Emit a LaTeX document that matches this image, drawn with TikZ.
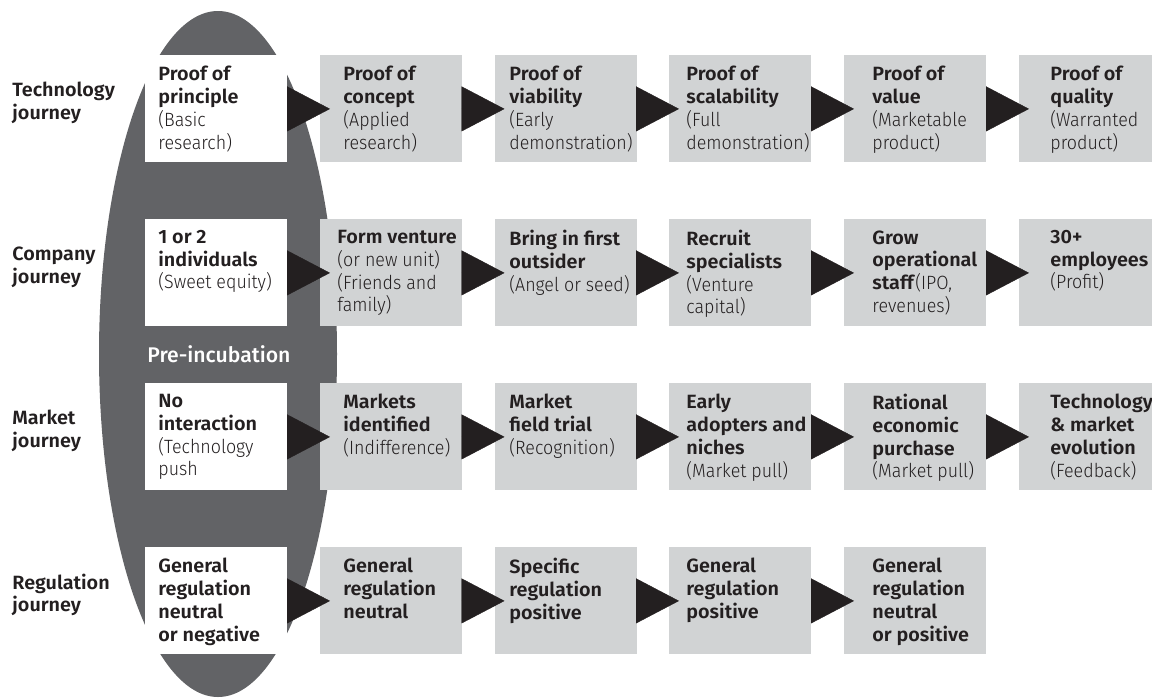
\documentclass[tikz,border=0pt]{standalone}
\usepackage{fontspec}
\setmainfont{Fira Sans}[UprightFont={* Light}, UprightFeatures={FakeStretch=0.93},
  BoldFont={* SemiBold}, BoldFeatures={FakeStretch=1.03}]
\newfontfamily\regfont{Fira Sans}[UprightFont={* Medium}]
\usetikzlibrary{arrows.meta}

\definecolor{boxgray}{RGB}{209,211,212}
\definecolor{ovalgray}{RGB}{98,99,102}
\definecolor{inkblack}{RGB}{35,31,32}

\tikzset{
  stage/.style={fill=boxgray, minimum width=71pt, minimum height=53.5pt,
    inner sep=0pt, anchor=north west},
  stagetext/.style={anchor=north west, align=left, inner sep=0pt, text=inkblack,
    font=\fontsize{9.6}{11.35}\selectfont},
  rowlabel/.style={anchor=west, align=left, inner sep=0pt, text=inkblack,
    font=\fontsize{9.6}{11.35}\selectfont\bfseries}
}

\begin{document}
\begin{tikzpicture}[x=0.5pt,y=-0.5pt]
  \useasboundingbox (0,0) rectangle (1152,697);

  % pre-incubation oval
  \fill[ovalgray] (218,354) ellipse [x radius=59.5pt, y radius=171.5pt];
  \node[anchor=base west, inner sep=0pt, text=white,
    font=\fontsize{10.6}{13}\selectfont\regfont] (pre) at (147,362) {Pre-incubation};

  % boxes
  \begin{scope}[every node/.style={stage}]
    \node[fill=white] (t0) at (145,55) {};
    \node (t1) at (320,55)   {};
    \node (t2) at (494.5,55) {};
    \node (t3) at (669,55)   {};
    \node (t4) at (844,55)   {};
    \node (t5) at (1019,55)  {};

    \node[fill=white] (c0) at (145,219) {};
    \node (c1) at (320,219)   {};
    \node (c2) at (494.5,219) {};
    \node (c3) at (669,219)   {};
    \node (c4) at (844,219)   {};
    \node (c5) at (1019,219)  {};

    \node[fill=white] (m0) at (145,383) {};
    \node (m1) at (320,383)   {};
    \node (m2) at (494.5,383) {};
    \node (m3) at (669,383)   {};
    \node (m4) at (844,383)   {};
    \node (m5) at (1019,383)  {};

    \node[fill=white] (r0) at (145,547) {};
    \node (r1) at (320,547)   {};
    \node (r2) at (494.5,547) {};
    \node (r3) at (669,547)   {};
    \node (r4) at (844,547)   {};
  \end{scope}

  % arrows
  \begin{scope}[every edge/.style={draw=inkblack, fill=inkblack, line width=0.2pt,
      -{Triangle[length=21.5pt,width=22.5pt]}, shorten >=-5pt}]
    \path (t0) edge (t1) (t1) edge (t2) (t2) edge (t3) (t3) edge (t4) (t4) edge (t5);
    \path (c0) edge (c1) (c1) edge (c2) (c2) edge (c3) (c3) edge (c4) (c4) edge (c5);
    \path (m0) edge (m1) (m1) edge (m2) (m2) edge (m3) (m3) edge (m4) (m4) edge (m5);
    \path (r0) edge (r1) (r1) edge (r2) (r2) edge (r3) (r3) edge (r4);
  \end{scope}

  % row labels
  \begin{scope}[every node/.style={rowlabel}]
    \node (tl) at (12,103) {Technology\\journey};
    \node (cl) at (12,267) {Company\\journey};
    \node (ml) at (12,431) {Market\\journey};
    \node (rl) at (12,595) {Regulation\\journey};
  \end{scope}

  % box texts
  \begin{scope}[every node/.style={stagetext}]
    \node (t0x) at (158,66)  {\textbf{Proof of}\\\textbf{principle}\\(Basic\\research)};
    \node (t1x) at (343,66)  {\textbf{Proof of}\\\textbf{concept}\\(Applied\\research)};
    \node (t2x) at (509,66)  {\textbf{Proof of}\\\textbf{viability}\\(Early\\demonstration)};
    \node (t3x) at (686,66)  {\textbf{Proof of}\\\textbf{scalability}\\(Full\\demonstration)};
    \node (t4x) at (872,66)  {\textbf{Proof of}\\\textbf{value}\\(Marketable\\product)};
    \node (t5x) at (1050,66) {\textbf{Proof of}\\\textbf{quality}\\(Warranted\\product)};

    \node (c0x) at (158,230) {\textbf{1 or 2}\\\textbf{individuals}\\(Sweet equity)};
    \node (c1x) at (337,230) {\textbf{Form venture}\\(or new unit)\\(Friends and\\family)};
    \node (c2x) at (509,230) {\textbf{Bring in first}\\\textbf{outsider}\\(Angel or seed)};
    \node (c3x) at (686,230) {\textbf{Recruit}\\\textbf{specialists}\\(Venture\\capital)};
    \node (c4x) at (872,230) {\textbf{Grow}\\\textbf{operational}\\\textbf{staff}(IPO,\\revenues)};
    \node (c5x) at (1050,230) {\textbf{30+}\\\textbf{employees}\\(Profit)};

    \node (m0x) at (158,394) {\textbf{No}\\\textbf{interaction}\\(Technology\\push};
    \node (m1x) at (343,394) {\textbf{Markets}\\\textbf{identified}\\(Indifference)};
    \node (m2x) at (509,394) {\textbf{Market}\\\textbf{field trial}\\(Recognition)};
    \node (m3x) at (686,394) {\textbf{Early}\\\textbf{adopters and}\\\textbf{niches}\\(Market pull)};
    \node (m4x) at (872,394) {\textbf{Rational}\\\textbf{economic}\\\textbf{purchase}\\(Market pull)};
    \node (m5x) at (1050,394) {\textbf{Technology}\\\textbf{\& market}\\\textbf{evolution}\\(Feedback)};

    \node (r0x) at (158,558) {\textbf{General}\\\textbf{regulation}\\\textbf{neutral}\\\textbf{or negative}};
    \node (r1x) at (343,558) {\textbf{General}\\\textbf{regulation}\\\textbf{neutral}};
    \node (r2x) at (509,558) {\textbf{Specific}\\\textbf{regulation}\\\textbf{positive}};
    \node (r3x) at (686,558) {\textbf{General}\\\textbf{regulation}\\\textbf{positive}};
    \node (r4x) at (872,558) {\textbf{General}\\\textbf{regulation}\\\textbf{neutral}\\\textbf{or positive}};
  \end{scope}
\end{tikzpicture}
\end{document}
